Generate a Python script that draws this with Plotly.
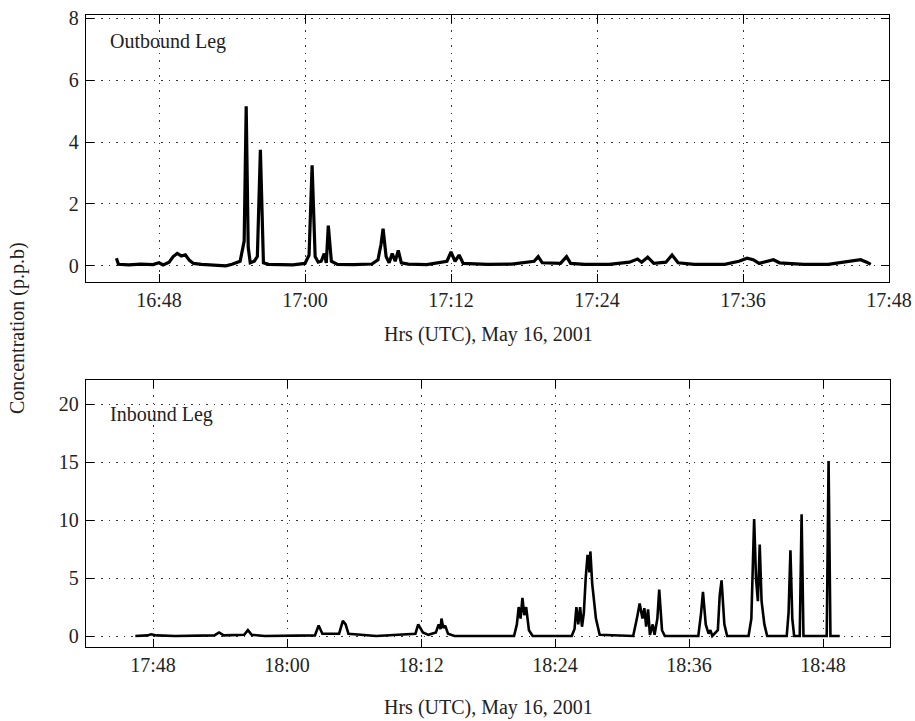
import plotly.graph_objects as go

DAY = "2001-05-16 "

# Outbound leg: concentration (p.p.b) vs UTC time
out_time = [
    "16:44:30", "16:44:40", "16:45:30", "16:46:30", "16:47:30", "16:48:00", "16:48:20",
    "16:48:50", "16:49:10", "16:49:30", "16:49:50", "16:50:10", "16:50:30", "16:50:50",
    "16:51:30", "16:52:30", "16:53:30", "16:54:00", "16:54:40", "16:55:00", "16:55:10",
    "16:55:20", "16:55:30", "16:55:50", "16:56:05", "16:56:20", "16:56:35", "16:57:00",
    "16:58:00", "16:59:00", "17:00:00", "17:00:20", "17:00:35", "17:00:50", "17:01:05",
    "17:01:20", "17:01:35", "17:01:45", "17:01:55", "17:02:10", "17:02:40", "17:04:00",
    "17:05:30", "17:06:00", "17:06:15", "17:06:25", "17:06:40", "17:06:55", "17:07:10",
    "17:07:25", "17:07:40", "17:07:55", "17:08:30", "17:10:00", "17:11:40", "17:12:00",
    "17:12:20", "17:12:40", "17:13:00", "17:15:00", "17:17:00", "17:18:50", "17:19:10",
    "17:19:30", "17:21:00", "17:21:30", "17:21:50", "17:23:00", "17:25:00", "17:26:40",
    "17:27:20", "17:27:40", "17:28:10", "17:28:40", "17:29:40", "17:30:10", "17:30:40",
    "17:32:00", "17:34:30", "17:35:40", "17:36:20", "17:36:50", "17:37:20", "17:38:30",
    "17:39:00", "17:41:00", "17:43:00", "17:45:00", "17:45:40", "17:46:10", "17:46:30",
]
out_ppb = [
    0.25, 0.05, 0.03, 0.06, 0.04, 0.10, 0.03,
    0.12, 0.30, 0.40, 0.32, 0.36, 0.18, 0.08,
    0.05, 0.02, 0.00, 0.05, 0.15, 0.80, 5.15,
    0.60, 0.10, 0.15, 0.30, 3.75, 0.10, 0.05,
    0.04, 0.03, 0.08, 0.35, 3.25, 0.30, 0.12,
    0.15, 0.40, 0.10, 1.30, 0.15, 0.05, 0.04,
    0.06, 0.20, 0.70, 1.20, 0.30, 0.10, 0.40,
    0.15, 0.50, 0.10, 0.06, 0.04, 0.15, 0.45,
    0.15, 0.35, 0.08, 0.05, 0.06, 0.15, 0.30,
    0.10, 0.08, 0.30, 0.08, 0.05, 0.05, 0.12,
    0.22, 0.12, 0.28, 0.08, 0.12, 0.35, 0.10,
    0.05, 0.05, 0.15, 0.25, 0.20, 0.08, 0.20,
    0.10, 0.05, 0.05, 0.15, 0.20, 0.12, 0.05,
]

# Inbound leg: concentration (p.p.b) vs UTC time
in_time = [
    "17:46:25", "17:47:30", "17:47:50", "17:48:20", "17:50:00", "17:53:30", "17:53:55",
    "17:54:20", "17:56:10", "17:56:30", "17:56:50", "17:58:00", "18:02:30", "18:02:50",
    "18:03:10", "18:04:40", "18:05:00", "18:05:15", "18:05:30", "18:08:00", "18:11:30",
    "18:11:45", "18:12:10", "18:12:40", "18:13:20", "18:13:35", "18:13:45", "18:13:50",
    "18:14:00", "18:14:10", "18:14:25", "18:15:00", "18:20:20", "18:20:35", "18:20:45",
    "18:20:55", "18:21:05", "18:21:15", "18:21:25", "18:21:40", "18:22:00", "18:25:30",
    "18:25:45", "18:25:55", "18:26:05", "18:26:15", "18:26:25", "18:26:35", "18:26:45",
    "18:26:55", "18:27:05", "18:27:10", "18:27:20", "18:27:40", "18:28:00", "18:31:00",
    "18:31:20", "18:31:35", "18:31:50", "18:32:00", "18:32:10", "18:32:20", "18:32:30",
    "18:32:45", "18:32:55", "18:33:10", "18:33:20", "18:33:35", "18:33:50", "18:36:50",
    "18:37:05", "18:37:15", "18:37:30", "18:37:45", "18:37:55", "18:38:05", "18:38:35",
    "18:38:45", "18:38:55", "18:39:10", "18:39:25", "18:41:20", "18:41:35", "18:41:50",
    "18:42:00", "18:42:10", "18:42:20", "18:42:30", "18:42:45", "18:43:00", "18:44:45",
    "18:44:55", "18:45:05", "18:45:15", "18:45:25", "18:45:55", "18:46:05", "18:46:15",
    "18:48:20", "18:48:30", "18:48:40", "18:49:30",
]
in_ppb = [
    0.0, 0.05, 0.15, 0.05, 0.0, 0.05, 0.30,
    0.05, 0.10, 0.50, 0.10, 0.0, 0.05, 0.90,
    0.20, 0.20, 1.30, 1.00, 0.20, 0.0, 0.20,
    1.00, 0.30, 0.10, 0.30, 1.00, 0.60, 1.50,
    0.70, 0.90, 0.20, 0.0, 0.0, 1.00, 2.50,
    1.50, 3.30, 1.80, 2.50, 0.50, 0.0, 0.0,
    0.60, 2.50, 1.00, 2.50, 0.80, 2.00, 5.00,
    7.00, 5.50, 7.30, 4.50, 1.50, 0.10, 0.0,
    1.50, 2.80, 1.50, 2.40, 0.80, 2.30, 0.10,
    1.00, 0.10, 1.50, 4.00, 0.50, 0.0, 0.0,
    2.00, 3.80, 1.00, 0.20, 0.50, 0.0, 0.50,
    3.50, 4.80, 1.00, 0.0, 0.0, 1.50, 10.1,
    5.00, 3.00, 7.90, 3.00, 1.00, 0.0, 0.0,
    2.00, 7.40, 1.50, 0.0, 0.0, 10.5, 0.0,
    0.0, 15.1, 0.0, 0.0,
]

FONT = "Liberation Serif, Times New Roman, serif"
W, H = 915, 721
TXT = "#222222"

fig = go.Figure()
fig.add_trace(go.Scatter(
    x=[DAY + t for t in out_time], y=out_ppb, mode="lines",
    line=dict(color="black", width=3.2), xaxis="x", yaxis="y", showlegend=False,
))
fig.add_trace(go.Scatter(
    x=[DAY + t for t in in_time], y=in_ppb, mode="lines",
    line=dict(color="black", width=2.6), xaxis="x2", yaxis="y2", showlegend=False,
))

axis_common = dict(
    showline=True, linecolor="black", linewidth=1.3, mirror="ticks",
    ticks="inside", ticklen=8, tickwidth=1.3, tickcolor="black",
    showgrid=True, gridcolor="#333333", gridwidth=1.2, griddash="1.5px,6px",
    zeroline=False, automargin=False,
    tickfont=dict(family=FONT, size=20, color=TXT),
)

fig.update_layout(
    width=W, height=H, margin=dict(l=0, r=0, t=0, b=0, autoexpand=False),
    paper_bgcolor="white", plot_bgcolor="white",
    font=dict(family=FONT, size=20, color=TXT),
    xaxis=dict(
        domain=[86 / W, 889 / W], anchor="y", type="date",
        range=[DAY + "16:42:00", DAY + "17:48:00"],
        tick0=DAY + "16:48:00", dtick=12 * 60 * 1000, tickformat="%H:%M",
        **axis_common,
    ),
    yaxis=dict(
        domain=[1 - 282 / H, 1 - 15 / H], anchor="x",
        range=[-0.52, 8.1], tickvals=[0, 2, 4, 6, 8], ticklabelstandoff=2,
        **axis_common,
    ),
    xaxis2=dict(
        domain=[86 / W, 890 / W], anchor="y2", type="date",
        range=[DAY + "17:42:00", DAY + "18:54:00"],
        tick0=DAY + "17:48:00", dtick=12 * 60 * 1000, tickformat="%H:%M",
        **axis_common,
    ),
    yaxis2=dict(
        domain=[1 - 647 / H, 1 - 380 / H], anchor="x2",
        range=[-0.95, 22.1], tickvals=[0, 5, 10, 15, 20], ticklabelstandoff=2,
        **axis_common,
    ),
)

annotations = [
    dict(text="Outbound Leg", x=108 / W, y=1 - 42 / H, xanchor="left", yanchor="middle"),
    dict(text="Inbound Leg", x=108 / W, y=1 - 414 / H, xanchor="left", yanchor="middle"),
    dict(text="Hrs (UTC), May 16, 2001", x=488 / W, y=1 - 334 / H, xanchor="center", yanchor="middle"),
    dict(text="Hrs (UTC), May 16, 2001", x=488 / W, y=1 - 707 / H, xanchor="center", yanchor="middle"),
    dict(text="Concentration (p.p.b)", x=17 / W, y=1 - 328 / H, xanchor="center", yanchor="middle",
         textangle=-90),
]
for a in annotations:
    fig.add_annotation(xref="paper", yref="paper", showarrow=False,
                       font=dict(family=FONT, size=20, color=TXT), **a)

fig.write_html("out.html")
